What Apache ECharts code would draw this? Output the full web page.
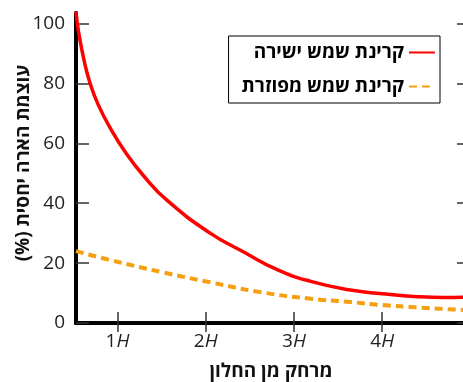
<!DOCTYPE html>
<html>
<head>
<meta charset="utf-8">
<script src="https://cdn.jsdelivr.net/npm/echarts@6/dist/echarts.min.js"></script>
<style>
html,body{margin:0;padding:0;background:#fff;}
#c{width:463px;height:382px;}
</style>
</head>
<body>
<div id="c"></div>
<script>
// ---- data ----
const directX = [0.53, 0.56, 0.63, 0.69, 0.78, 0.92, 1.09, 1.3, 1.56, 2.05, 2.43, 2.81, 3.19, 3.64, 4.0, 4.4, 4.7, 4.95];
const directY = [104, 97, 86.5, 80, 73, 65, 57, 49, 41, 30, 23.7, 17.8, 13.9, 11, 9.8, 8.8, 8.5, 8.6];
const diffuseX = [0.53, 0.92, 1.5, 2.05, 2.62, 3.19, 3.64, 4.0, 4.4, 4.95];
const diffuseY = [24, 21, 17, 13.6, 10.3, 8.1, 7.0, 6.0, 5.2, 4.3];
const xTickValues = [1, 2, 3, 4];
const xTickNums = ['1', '2', '3', '4'];
const yTickValues = [0, 20, 40, 60, 80, 100];
const seriesNames = ['קרינת שמש ישירה', 'קרינת שמש מפוזרת'];
const xTitle = 'מרחק מן החלון';
const yTitle = '\u200Fעוצמת הארה יחסית (%)\u200F';

const FONT = "'Open Sans', 'Liberation Sans', 'DejaVu Sans', sans-serif";
const X_MIN = 0.53, X_MAX = 4.95, Y_MIN = 0, Y_MAX = 103.5;

const chart = echarts.init(document.getElementById('c'), null, {renderer: 'canvas'});
const lineAxis = {show: true, lineStyle: {color: '#000', width: 4}};
const tickStyle = {color: '#333', width: 1.5};

chart.setOption({
  animation: false,
  backgroundColor: '#fff',
  grid: {left: 76, top: 13, right: -3, bottom: 59, containLabel: false, outerBoundsMode: 'none'},
  legend: {
    orient: 'vertical',
    right: 23,
    top: 36,
    align: 'right',
    itemWidth: 26,
    itemHeight: 14,
    itemGap: 15,
    padding: [7, 4, 7, 13],
    borderColor: '#000',
    borderWidth: 1,
    backgroundColor: '#fff',
    itemStyle: {opacity: 0},
    textStyle: {fontFamily: FONT, fontSize: 19, fontWeight: 'bold', color: '#000'},
    data: seriesNames
  },
  xAxis: [{
    type: 'value',
    min: X_MIN, max: X_MAX,
    position: 'bottom',
    axisLine: lineAxis,
    splitLine: {show: false},
    axisTick: {show: true, inside: true, length: 11, lineStyle: tickStyle, customValues: xTickValues},
    axisLabel: {
      show: true, margin: 9, customValues: xTickValues,
      formatter: function (v) {
        const i = xTickValues.indexOf(v);
        return '{n|' + xTickNums[i] + '}{h|H}';
      },
      rich: {
        n: {fontFamily: FONT, fontSize: 19, color: '#222'},
        h: {fontFamily: FONT, fontSize: 19, color: '#222', fontStyle: 'italic'}
      }
    },
    name: xTitle,
    nameLocation: 'middle',
    nameGap: 39,
    nameMoveOverlap: false,
    nameTextStyle: {fontFamily: FONT, fontSize: 19, fontWeight: 'bold', color: '#111'}
  }, {
    type: 'value',
    min: X_MIN, max: X_MAX,
    position: 'top',
    axisLine: lineAxis,
    splitLine: {show: false},
    axisTick: {show: true, inside: true, length: 9, lineStyle: tickStyle, customValues: xTickValues},
    axisLabel: {show: false}
  }],
  yAxis: [{
    type: 'value',
    min: Y_MIN, max: Y_MAX,
    position: 'left',
    axisLine: lineAxis,
    splitLine: {show: false},
    axisTick: {show: true, inside: true, length: 13, lineStyle: tickStyle, customValues: yTickValues},
    axisLabel: {show: true, margin: 11, customValues: yTickValues, fontFamily: FONT, fontSize: 19, color: '#222'},
    name: yTitle,
    nameLocation: 'middle',
    nameGap: 43,
    nameMoveOverlap: false,
    nameTextStyle: {fontFamily: FONT, fontSize: 19, fontWeight: 'bold', color: '#111', padding: [0, 0, 0, 10]}
  }, {
    type: 'value',
    min: Y_MIN, max: Y_MAX,
    position: 'right',
    axisLine: lineAxis,
    splitLine: {show: false},
    axisTick: {show: true, inside: true, length: 9, lineStyle: tickStyle, customValues: yTickValues},
    axisLabel: {show: false}
  }],
  series: [{
    name: seriesNames[0],
    type: 'line',
    smooth: 0.5,
    symbol: 'none',
    clip: true,
    xAxisIndex: 0, yAxisIndex: 0,
    data: directX.map((x, i) => [x, directY[i]]),
    lineStyle: {color: '#ff0000', width: 3.5},
    itemStyle: {color: '#ff0000'},
    z: 3
  }, {
    name: seriesNames[1],
    type: 'line',
    smooth: 0.5,
    symbol: 'none',
    clip: true,
    xAxisIndex: 0, yAxisIndex: 0,
    data: diffuseX.map((x, i) => [x, diffuseY[i]]),
    lineStyle: {color: '#f5a00f', width: 4, type: [8, 5]},
    itemStyle: {color: '#f5a00f'},
    z: 2
  }]
});
</script>
</body>
</html>
